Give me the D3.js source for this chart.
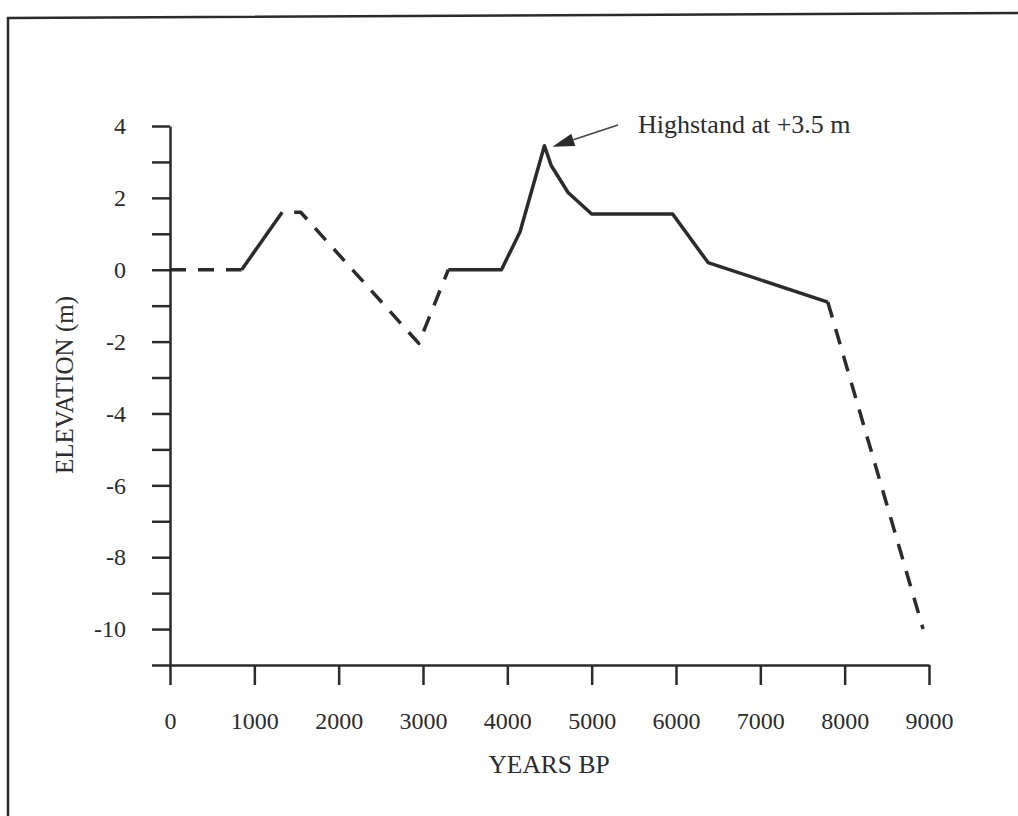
<!DOCTYPE html>
<html>
<head>
<meta charset="utf-8">
<script src="https://cdn.jsdelivr.net/npm/d3@7"></script>
<style>
  body { margin: 0; background: #fff; }
  svg { display: block; }
  text { font-family: "Liberation Serif", "Times New Roman", serif; fill: #2b2b2b; }
</style>
</head>
<body>
<svg id="chart" width="1018" height="816"></svg>
<script>
'use strict';

// sea level curve (years BP vs elevation in m)
const years      = [0, 850, 1330, 1550, 2950, 3300, 3930, 4150, 4440, 4520, 4720, 5000, 5960, 6380, 7800, 8930];
const elevations = [0, 0, 1.6, 1.6, -2.05, 0, 0, 1.05, 3.45, 2.9, 2.15, 1.55, 1.55, 0.2, -0.9, -10];
// style of the segment starting at each point
const segmentStyles = ["dashed", "solid", "dashed", "dashed", "dashed", "solid", "solid", "solid",
                       "solid", "solid", "solid", "solid", "solid", "solid", "dashed"];

const xTicks = [0, 1000, 2000, 3000, 4000, 5000, 6000, 7000, 8000, 9000];
const yTicks = [-11, -10, -9, -8, -7, -6, -5, -4, -3, -2, -1, 0, 1, 2, 3, 4];
const yLabels = [-10, -8, -6, -4, -2, 0, 2, 4];

const peakYear = 4440, peakElevation = 3.45;
const annotationText = "Highstand at +3.5 m";

const ink = "#2b2b2b";

function getChartConfig() {
    let svg = d3.select("#chart");
    let left = 170, right = 929, top = 126, bottom = 665;
    return { svg, left, right, top, bottom };
}

function getScales(config) {
    let { left, right, top, bottom } = config;

    let xScale = d3.scaleLinear()
        .domain([0, 9000])
        .range([left, right]);

    let yScale = d3.scaleLinear()
        .domain([-11, 4])
        .range([bottom, top]);

    return { xScale, yScale };
}

function drawFrame(config) {
    // scanned page border, only left and top edges visible
    config.svg.append("path")
        .attr("d", "M8,816V18L1018,13")
        .attr("fill", "none")
        .attr("stroke", ink)
        .attr("stroke-width", 2.5);
}

function drawAxes(config, scales) {
    let { svg, left, bottom } = config;
    let { xScale, yScale } = scales;

    let yAxis = d3.axisLeft(yScale)
        .tickValues(yTicks)
        .tickSize(18)
        .tickSizeOuter(0)
        .tickPadding(26)
        .tickFormat(d => yLabels.includes(d) ? String(d) : "");

    let gy = svg.append("g")
        .attr("class", "y axis")
        .attr("transform", "translate(" + left + ",0)")
        .call(yAxis);

    let xAxis = d3.axisBottom(xScale)
        .tickValues(xTicks)
        .tickSize(20)
        .tickSizeOuter(0)
        .tickPadding(27)
        .tickFormat(d => String(d));

    let gx = svg.append("g")
        .attr("class", "x axis")
        .attr("transform", "translate(0," + bottom + ")")
        .call(xAxis);

    [gx, gy].forEach(g => {
        g.selectAll("path, line")
            .attr("stroke", ink)
            .attr("stroke-width", 2.5);
        g.selectAll("text")
            .style("font-size", "24px")
            .style("font-family", "'Liberation Serif', serif")
            .attr("fill", ink);
    });

    // axis titles
    svg.append("text")
        .attr("transform", "translate(73,385) rotate(-90)")
        .style("text-anchor", "middle")
        .style("font-size", "25px")
        .text("ELEVATION (m)");

    svg.append("text")
        .attr("x", 549)
        .attr("y", 773)
        .style("text-anchor", "middle")
        .style("font-size", "25.5px")
        .text("YEARS BP");
}

function drawCurve(config, scales) {
    let { svg } = config;
    let { xScale, yScale } = scales;

    // split the points into runs of same line style
    let groups = [];
    for (let i = 0; i < segmentStyles.length; i++) {
        let p0 = [years[i], elevations[i]], p1 = [years[i + 1], elevations[i + 1]];
        let last = groups[groups.length - 1];
        if (last && last.style === segmentStyles[i]) {
            last.points.push(p1);
        } else {
            groups.push({ style: segmentStyles[i], points: [p0, p1] });
        }
    }

    let line = d3.line()
        .x(d => xScale(d[0]))
        .y(d => yScale(d[1]));

    svg.selectAll(".curve")
        .data(groups)
        .enter()
        .append("path")
        .attr("class", "curve")
        .attr("d", d => line(d.points))
        .attr("fill", "none")
        .attr("stroke", ink)
        .attr("stroke-width", 3.5)
        .attr("stroke-linejoin", "round")
        .attr("stroke-dasharray", d => d.style === "dashed" ? "16,12" : null)
        // the dashed run after the first rise begins with a gap
        .attr("stroke-dashoffset", (d, i) => i === 2 ? 16 : 0);
}

function drawAnnotation(config, scales) {
    let { svg } = config;
    let { xScale, yScale } = scales;

    let tail = [618, 125];
    let tip = [xScale(peakYear) + 8, yScale(peakElevation) + 1];

    let dx = tip[0] - tail[0], dy = tip[1] - tail[1];
    let len = Math.sqrt(dx * dx + dy * dy);
    let ux = dx / len, uy = dy / len;
    let headLen = 22, headHalf = 6.5;
    let base = [tip[0] - ux * headLen, tip[1] - uy * headLen];

    svg.append("line")
        .attr("x1", tail[0]).attr("y1", tail[1])
        .attr("x2", base[0]).attr("y2", base[1])
        .attr("stroke", "#444")
        .attr("stroke-width", 1.5);

    let head = [
        tip,
        [base[0] - uy * headHalf, base[1] + ux * headHalf],
        [base[0] + uy * headHalf, base[1] - ux * headHalf]
    ];

    svg.append("polygon")
        .attr("points", head.map(p => p.join(",")).join(" "))
        .attr("fill", ink);

    svg.append("text")
        .attr("x", 638)
        .attr("y", 133)
        .style("font-size", "26px")
        .text(annotationText);
}

function drawChart() {
    let config = getChartConfig();
    let scales = getScales(config);
    drawFrame(config);
    drawAxes(config, scales);
    drawCurve(config, scales);
    drawAnnotation(config, scales);
}

drawChart();
</script>
</body>
</html>
